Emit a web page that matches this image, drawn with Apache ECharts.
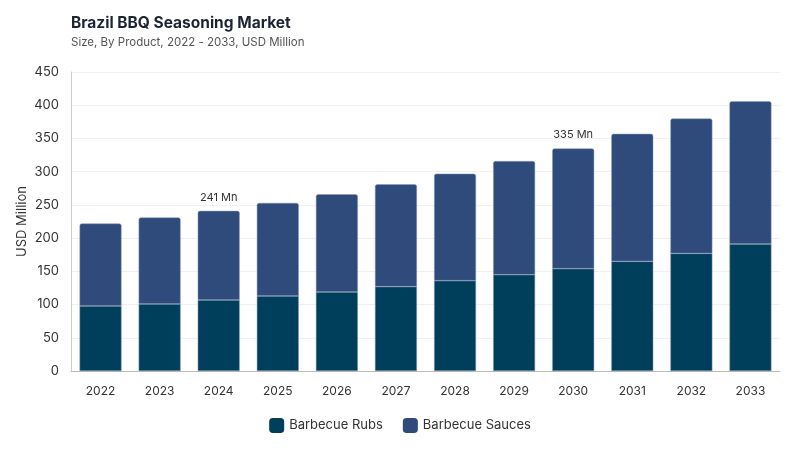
<!DOCTYPE html>
<html lang="en">
<head>
    <meta charset="UTF-8">
    <title>Brazil BBQ Seasoning Market</title>
    <script src="https://cdn.jsdelivr.net/npm/echarts@6/dist/echarts.min.js"></script>
    <style>
        html, body { margin: 0; padding: 0; background: #fff; }
    </style>
</head>
<body>
    <div id="main" style="width: 800px; height: 450px;"></div>
    <script>
        // data
        const years = ['2022', '2023', '2024', '2025', '2026', '2027', '2028', '2029', '2030', '2031', '2032', '2033'];
        const rubs = [98, 101, 107, 113, 119, 127, 136, 145, 154, 165, 177, 191];
        const sauces = [124, 130, 134, 140, 147, 154, 161, 171, 181, 192, 203, 215];
        const yTicks = [0, 50, 100, 150, 200, 250, 300, 350, 400, 450];
        // totals shown as labels above two bars
        const labelled = { '2024': '241 Mn', '2030': '335 Mn' };

        const font = 'Inter, "Noto Sans", sans-serif';
        const myChart = echarts.init(document.getElementById('main'));

        const option = {
            animation: false,
            textStyle: { fontFamily: font },
            title: {
                text: 'Brazil BBQ Seasoning Market',
                subtext: 'Size, By Product, 2022 - 2033, USD Million',
                left: 66,
                top: 10,
                itemGap: 6,
                textStyle: { fontSize: 15.5, fontWeight: 'bold', color: '#1c2333', fontFamily: font },
                subtextStyle: { fontSize: 11.5, color: '#555', fontFamily: font }
            },
            legend: {
                bottom: 12,
                left: 'center',
                itemWidth: 15,
                itemHeight: 15,
                itemGap: 20,
                icon: 'roundRect',
                itemStyle: { borderWidth: 0 },
                textStyle: { fontSize: 13, color: '#333', fontFamily: font },
                data: ['Barbecue Rubs', 'Barbecue Sauces']
            },
            grid: { left: 71, right: 20, top: 72, bottom: 79 },
            xAxis: {
                type: 'category',
                data: years,
                axisLine: { lineStyle: { color: '#bbb' } },
                axisTick: { show: false },
                axisLabel: { color: '#333', fontSize: 12, margin: 14 }
            },
            yAxis: {
                type: 'value',
                min: yTicks[0],
                max: yTicks[yTicks.length - 1],
                interval: 50,
                name: 'USD Million',
                nameLocation: 'middle',
                nameGap: 42,
                nameMoveOverlap: false,
                nameTextStyle: { color: '#333', fontSize: 13 },
                axisLine: { show: true, lineStyle: { color: '#ccc' } },
                axisLabel: { color: '#333', fontSize: 13, margin: 12 },
                splitLine: { lineStyle: { color: '#f0f0f0' } }
            },
            series: [
                {
                    name: 'Barbecue Rubs',
                    type: 'bar',
                    stack: 'total',
                    barWidth: '71%',
                    data: rubs,
                    itemStyle: { color: '#003f5c', borderColor: '#8a9bb5', borderWidth: 0.5 }
                },
                {
                    name: 'Barbecue Sauces',
                    type: 'bar',
                    stack: 'total',
                    data: sauces,
                    itemStyle: { color: '#2f4b7c', borderColor: '#8a9bb5', borderWidth: 0.5, borderRadius: [2, 2, 0, 0] },
                    label: {
                        show: true,
                        position: 'top',
                        distance: 8,
                        color: '#333',
                        fontSize: 11,
                        formatter: p => labelled[p.name] || ''
                    }
                }
            ]
        };

        myChart.setOption(option);
    </script>
</body>
</html>
